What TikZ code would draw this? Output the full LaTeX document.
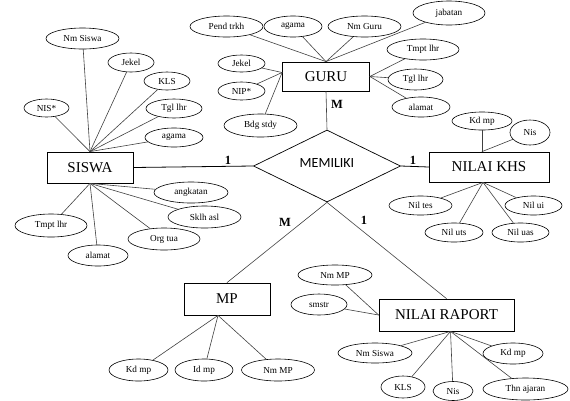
\documentclass[tikz,border=0pt]{standalone}
\usepackage{fontspec}
\setmainfont{Liberation Serif}
\newfontfamily\relfont{Carlito}
\usetikzlibrary{shapes.geometric}

\begin{document}
\begin{tikzpicture}[x=1pt,y=-1pt,line cap=round]
	\tikzstyle{ent}=[rectangle,draw,line width=0.8pt,inner sep=0pt,font=\fontsize{15}{15}\selectfont];
	\tikzstyle{attr}=[ellipse,draw,line width=0.6pt,inner sep=0pt,font=\fontsize{9.2}{10}\selectfont];
	\tikzstyle{rel}=[diamond,draw,line width=0.7pt,inner sep=0pt,minimum width=147pt,minimum height=72pt,font=\relfont\fontsize{14}{14}\selectfont];
	\tikzstyle{card}=[inner sep=0pt,font=\bfseries\fontsize{12.5}{12.5}\selectfont];
	\tikzstyle{ln}=[draw=black!75,line width=0.6pt];
	\useasboundingbox (0,0) rectangle (570,400);
	% entitas dan relasi
	\node[ent,minimum width=86pt,minimum height=31pt]  (siswa)  at (90,167.5)  {SISWA};
	\node[ent,minimum width=87pt,minimum height=29pt]  (guru)   at (326,76.5)  {GURU};
	\node[ent,minimum width=120pt,minimum height=30pt] (khs)    at (489,167)   {NILAI KHS};
	\node[ent,minimum width=86pt,minimum height=32pt]  (mp)     at (227,299)   {MP};
	\node[ent,minimum width=135pt,minimum height=32pt] (raport) at (446.5,315) {NILAI RAPORT};
	\node[rel] (memiliki) at (327,166) {\raisebox{5pt}{MEMILIKI}};
	% atribut siswa
	\node[attr,minimum width=73pt,minimum height=21pt] (nmsiswa)  at (82.5,38.5) {Nm Siswa};
	\node[attr,minimum width=46pt,minimum height=19pt] (jekel)    at (131,62.5)  {Jekel};
	\node[attr,minimum width=46pt,minimum height=18pt] (kls)      at (167,81)    {KLS};
	\node[attr,minimum width=56pt,minimum height=19pt] (tgllhr)   at (174,108.5) {Tgl lhr};
	\node[attr,minimum width=58pt,minimum height=19pt] (agama)    at (174,137.5) {agama};
	\node[attr,minimum width=45pt,minimum height=18pt] (nis)      at (46.5,108)  {NIS*};
	\node[attr,minimum width=74pt,minimum height=21pt] (angkatan) at (191,192.5) {angkatan};
	\node[attr,minimum width=73pt,minimum height=22pt] (sklhasl)  at (204.5,217) {Sklh asl};
	\node[attr,minimum width=72pt,minimum height=22pt] (orgtua)   at (164,239)   {Org tua};
	\node[attr,minimum width=60pt,minimum height=21pt] (alamat)   at (98,255.5)  {alamat};
	\node[attr,minimum width=72pt,minimum height=23pt] (tmptlhr)  at (51,225.5)  {Tmpt lhr};
	% atribut guru
	\node[attr,minimum width=73pt,minimum height=21pt] (pendtrkh) at (226.5,26.5) {Pend trkh};
	\node[attr,minimum width=58pt,minimum height=21pt] (gagama)   at (293,26.5)   {agama};
	\node[attr,minimum width=73pt,minimum height=21pt] (nmguru)   at (364.5,26.5) {Nm Guru};
	\node[attr,minimum width=72pt,minimum height=24pt] (jabatan)  at (449,13)     {jabatan};
	\node[attr,minimum width=72pt,minimum height=21pt] (gtmptlhr) at (423,49.5)   {Tmpt lhr};
	\node[attr,minimum width=55pt,minimum height=21pt] (gtgllhr)  at (415.5,79.5) {Tgl lhr};
	\node[attr,minimum width=58pt,minimum height=20pt] (galamat)  at (421,107)    {alamat};
	\node[attr,minimum width=47pt,minimum height=17pt] (gjekel)   at (241.5,63.5) {Jekel};
	\node[attr,minimum width=47pt,minimum height=18pt] (nip)      at (241.5,91)   {NIP*};
	\node[attr,minimum width=73pt,minimum height=23pt] (bdgstdy)  at (260.5,125.5) {Bdg stdy};
	% atribut nilai khs
	\node[attr,minimum width=60pt,minimum height=18pt] (kkdmp)  at (482,121)   {Kd mp};
	\node[attr,minimum width=40pt,minimum height=25pt] (knis)   at (530,132.5) {Nis};
	\node[attr,minimum width=63pt,minimum height=19pt] (niltes) at (420.5,205.5) {Nil tes};
	\node[attr,minimum width=57pt,minimum height=19pt] (nilui)  at (533.5,205.5) {Nil ui};
	\node[attr,minimum width=58pt,minimum height=19pt] (niluts) at (454,232.5) {Nil uts};
	\node[attr,minimum width=57pt,minimum height=19pt] (niluas) at (520.5,232.5) {Nil uas};
	% atribut mp
	\node[attr,minimum width=59pt,minimum height=22pt] (mkdmp) at (138.5,370) {Kd mp};
	\node[attr,minimum width=58pt,minimum height=22pt] (idmp)  at (204,370)   {Id mp};
	\node[attr,minimum width=73pt,minimum height=22pt] (mnmmp) at (278,370)   {Nm MP};
	% atribut nilai raport
	\node[attr,minimum width=74pt,minimum height=20pt] (rnmmp)    at (335,275)   {Nm MP};
	\node[attr,minimum width=56pt,minimum height=21pt] (smstr)    at (319,304.5) {smstr};
	\node[attr,minimum width=74pt,minimum height=20pt] (rnmsiswa) at (375,353)   {Nm Siswa};
	\node[attr,minimum width=60pt,minimum height=21pt] (rkdmp)    at (513,353.5) {Kd mp};
	\node[attr,minimum width=44pt,minimum height=22pt] (rkls)     at (403,387)   {KLS};
	\node[attr,minimum width=40pt,minimum height=19pt] (rnis)     at (453,391)   {Nis};
	\node[attr,minimum width=85pt,minimum height=22pt] (thnajaran) at (525.5,389) {Thn ajaran};
	% relasi
	\draw[line width=0.8pt] (siswa.east) -- (memiliki.west);
	\draw[ln] (guru.south) -- (memiliki.north);
	\draw[line width=0.8pt] (memiliki.east) -- (khs.west);
	\draw[ln] (memiliki.south) -- (mp.north);
	\draw[ln] (memiliki.south) -- (raport.north);
	\node[card] (c1) at (228,160) {1};
	\node[card] (c2) at (337,104) {M};
	\node[card] (c3) at (413,160) {1};
	\node[card] (c4) at (285,222) {M};
	\node[card] (c5) at (364,220) {1};
	% garis atribut
	\draw[ln] (nmsiswa) -- (siswa.north);
	\draw[ln] (jekel) -- (siswa.north);
	\draw[ln] (kls) -- (siswa.north);
	\draw[ln] (tgllhr) -- (siswa.north);
	\draw[ln] (agama) -- (siswa.north);
	\draw[ln] (nis) -- (siswa.north);
	\draw[ln] (angkatan) -- (siswa.south);
	\draw[ln] (sklhasl) -- (siswa.south);
	\draw[ln] (orgtua) -- (siswa.south);
	\draw[ln] (alamat) -- (siswa.south);
	\draw[ln] (tmptlhr) -- (siswa.south);
	\draw[ln] (pendtrkh) -- (guru.north);
	\draw[ln] (gagama) -- (guru.north);
	\draw[ln] (nmguru) -- (guru.north);
	\draw[ln] (jabatan) -- (guru.north);
	\draw[ln] (gtmptlhr) -- (guru.east);
	\draw[ln] (gtgllhr) -- (guru.east);
	\draw[ln] (galamat) -- (guru.east);
	\draw[ln] (gjekel) -- ([yshift=4pt]guru.west);
	\draw[ln] (nip) -- ([yshift=4pt]guru.west);
	\draw[ln] (bdgstdy) -- ([yshift=4pt]guru.west);
	\draw[ln] (kkdmp) -- ([xshift=-7pt]khs.north);
	\draw[ln] (knis) -- ([xshift=-7pt]khs.north);
	\draw[ln] (niltes) -- ([xshift=-6pt]khs.south);
	\draw[ln] (nilui) -- ([xshift=-6pt]khs.south);
	\draw[ln] (niluts) -- ([xshift=-6pt]khs.south);
	\draw[ln] (niluas) -- ([xshift=-6pt]khs.south);
	\draw[ln] (mkdmp) -- ([xshift=-9pt]mp.south);
	\draw[ln] (idmp) -- ([xshift=-9pt]mp.south);
	\draw[ln] (mnmmp) -- ([xshift=-9pt]mp.south);
	\draw[ln] (rnmmp) -- (raport.west);
	\draw[ln] (smstr) -- (raport.west);
	\draw[ln] (rnmsiswa) -- ([xshift=4pt]raport.south);
	\draw[ln] (rkdmp) -- ([xshift=4pt]raport.south);
	\draw[ln] (rkls) -- ([xshift=4pt]raport.south);
	\draw[ln] (rnis) -- ([xshift=4pt]raport.south);
	\draw[ln] (thnajaran) -- ([xshift=4pt]raport.south);
\end{tikzpicture}
\end{document}
